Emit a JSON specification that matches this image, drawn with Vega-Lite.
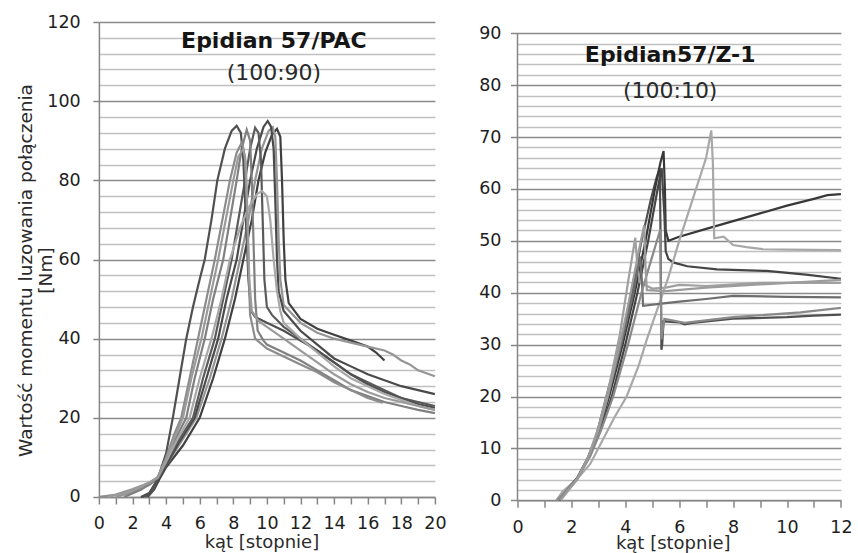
{
"$schema": "https://vega.github.io/schema/vega-lite/v6.json",
"background": "white",
"padding": {"left": 15.9, "top": 13, "right": 5, "bottom": 5},
"config": {
  "view": {"stroke": null},
  "font": "DejaVu Sans",
  "axis": {"labelFont": "DejaVu Sans", "labelFontSize": 17.5, "labelColor": "#1e1e1e", "titleFont": "DejaVu Sans", "titleFontSize": 18, "titleFontWeight": "normal", "titleColor": "#2a2a2a", "domainColor": "#868686", "tickColor": "#868686", "domainWidth": 1.5, "tickWidth": 1.5, "labelFlush": false, "labelOverlap": false},
  "title": {"font": "DejaVu Sans", "fontSize": 22, "fontWeight": "bold", "color": "#151515", "subtitleFont": "DejaVu Sans", "subtitleFontSize": 22, "subtitleColor": "#2a2a2a", "anchor": "middle", "frame": "group"}
},
"datasets": {
"pac": [
{"s":"T1","a":2.9,"m":0},{"s":"T1","a":3.3,"m":2},{"s":"T1","a":3.6,"m":4.5},{"s":"T1","a":4,"m":7.5},{"s":"T1","a":5,"m":13},{"s":"T1","a":6,"m":20},{"s":"T1","a":6.8,"m":30},{"s":"T1","a":7.5,"m":40},{"s":"T1","a":8.1,"m":50},{"s":"T1","a":8.6,"m":60},{"s":"T1","a":9.1,"m":70},{"s":"T1","a":9.5,"m":80},{"s":"T1","a":9.9,"m":87},{"s":"T1","a":10.3,"m":91.5},{"s":"T1","a":10.6,"m":93},{"s":"T1","a":10.8,"m":91},{"s":"T1","a":10.9,"m":80},{"s":"T1","a":11,"m":65},{"s":"T1","a":11.1,"m":55},{"s":"T1","a":11.3,"m":49},{"s":"T1","a":12,"m":45},{"s":"T1","a":13,"m":42.5},{"s":"T1","a":14,"m":41},{"s":"T1","a":15,"m":39.5},{"s":"T1","a":16,"m":38},{"s":"T1","a":16.5,"m":36.5},{"s":"T1","a":17,"m":34.5},
{"s":"T2","a":1,"m":0},{"s":"T2","a":2,"m":1.2},{"s":"T2","a":3,"m":3},{"s":"T2","a":3.5,"m":4.8},{"s":"T2","a":4,"m":8},{"s":"T2","a":4.9,"m":14},{"s":"T2","a":5.8,"m":20},{"s":"T2","a":6.6,"m":30},{"s":"T2","a":7.3,"m":40},{"s":"T2","a":7.9,"m":50},{"s":"T2","a":8.4,"m":60},{"s":"T2","a":8.9,"m":70},{"s":"T2","a":9.3,"m":80},{"s":"T2","a":9.7,"m":88},{"s":"T2","a":10.1,"m":92.5},{"s":"T2","a":10.35,"m":93.4},{"s":"T2","a":10.5,"m":91},{"s":"T2","a":10.6,"m":80},{"s":"T2","a":10.7,"m":65},{"s":"T2","a":10.8,"m":55},{"s":"T2","a":11,"m":48.5},{"s":"T2","a":12,"m":44},{"s":"T2","a":13,"m":41.5},{"s":"T2","a":14,"m":40},{"s":"T2","a":15,"m":39},{"s":"T2","a":16,"m":38},{"s":"T2","a":17,"m":37},{"s":"T2","a":17.5,"m":36},{"s":"T2","a":18,"m":34.5},{"s":"T2","a":18.5,"m":33.5},{"s":"T2","a":19,"m":32},{"s":"T2","a":20,"m":30.5},
{"s":"T3","a":2.5,"m":0},{"s":"T3","a":3,"m":1},{"s":"T3","a":3.5,"m":4.5},{"s":"T3","a":4,"m":8},{"s":"T3","a":4.8,"m":14},{"s":"T3","a":5.7,"m":20},{"s":"T3","a":6.4,"m":30},{"s":"T3","a":7.1,"m":40},{"s":"T3","a":7.6,"m":50},{"s":"T3","a":8.2,"m":60},{"s":"T3","a":8.6,"m":70},{"s":"T3","a":9,"m":80},{"s":"T3","a":9.4,"m":88},{"s":"T3","a":9.8,"m":93.5},{"s":"T3","a":10.05,"m":95},{"s":"T3","a":10.25,"m":93.5},{"s":"T3","a":10.4,"m":88},{"s":"T3","a":10.5,"m":75},{"s":"T3","a":10.6,"m":60},{"s":"T3","a":10.7,"m":52},{"s":"T3","a":11,"m":47},{"s":"T3","a":12,"m":42},{"s":"T3","a":13,"m":38.5},{"s":"T3","a":14,"m":35},{"s":"T3","a":15,"m":33},{"s":"T3","a":16,"m":31},{"s":"T3","a":17,"m":29.5},{"s":"T3","a":18,"m":28},{"s":"T3","a":19,"m":27},{"s":"T3","a":20,"m":26},
{"s":"T4","a":2.8,"m":0},{"s":"T4","a":3.2,"m":1.5},{"s":"T4","a":3.5,"m":4.5},{"s":"T4","a":4,"m":8.5},{"s":"T4","a":4.7,"m":14},{"s":"T4","a":5.6,"m":20},{"s":"T4","a":6.2,"m":30},{"s":"T4","a":6.9,"m":40},{"s":"T4","a":7.4,"m":50},{"s":"T4","a":7.9,"m":60},{"s":"T4","a":8.3,"m":70},{"s":"T4","a":8.7,"m":80},{"s":"T4","a":9,"m":88},{"s":"T4","a":9.3,"m":93.3},{"s":"T4","a":9.5,"m":92},{"s":"T4","a":9.65,"m":85},{"s":"T4","a":9.75,"m":70},{"s":"T4","a":9.85,"m":55},{"s":"T4","a":10,"m":48},{"s":"T4","a":10.3,"m":46},{"s":"T4","a":11,"m":43},{"s":"T4","a":12,"m":40},{"s":"T4","a":13,"m":37},{"s":"T4","a":14,"m":34},{"s":"T4","a":15,"m":31},{"s":"T4","a":16,"m":29},{"s":"T4","a":17,"m":27},{"s":"T4","a":18,"m":25},{"s":"T4","a":19,"m":24},{"s":"T4","a":20,"m":23},
{"s":"T5","a":1.5,"m":0},{"s":"T5","a":2.5,"m":1.8},{"s":"T5","a":3.5,"m":4.6},{"s":"T5","a":4,"m":9},{"s":"T5","a":4.6,"m":15},{"s":"T5","a":5.2,"m":20},{"s":"T5","a":5.7,"m":30},{"s":"T5","a":6.3,"m":40},{"s":"T5","a":6.8,"m":50},{"s":"T5","a":7.4,"m":60},{"s":"T5","a":7.8,"m":70},{"s":"T5","a":8.2,"m":80},{"s":"T5","a":8.5,"m":88},{"s":"T5","a":8.8,"m":92.8},{"s":"T5","a":9,"m":90},{"s":"T5","a":9.1,"m":80},{"s":"T5","a":9.2,"m":65},{"s":"T5","a":9.3,"m":50},{"s":"T5","a":9.45,"m":42},{"s":"T5","a":9.8,"m":39.5},{"s":"T5","a":10,"m":38.5},{"s":"T5","a":11,"m":36.5},{"s":"T5","a":12,"m":34.5},{"s":"T5","a":13,"m":32},{"s":"T5","a":14,"m":29.5},{"s":"T5","a":15,"m":27},{"s":"T5","a":16,"m":25.5},{"s":"T5","a":17,"m":24},{"s":"T5","a":18,"m":23},{"s":"T5","a":19,"m":22},{"s":"T5","a":20,"m":21.2},
{"s":"T6","a":2.6,"m":0},{"s":"T6","a":3,"m":0.8},{"s":"T6","a":3.5,"m":4.5},{"s":"T6","a":4,"m":11},{"s":"T6","a":4.4,"m":20},{"s":"T6","a":4.8,"m":30},{"s":"T6","a":5.2,"m":40},{"s":"T6","a":5.6,"m":48},{"s":"T6","a":6,"m":55},{"s":"T6","a":6.3,"m":60},{"s":"T6","a":6.7,"m":70},{"s":"T6","a":7.05,"m":80},{"s":"T6","a":7.5,"m":88},{"s":"T6","a":7.9,"m":92.5},{"s":"T6","a":8.2,"m":93.8},{"s":"T6","a":8.45,"m":92},{"s":"T6","a":8.6,"m":85},{"s":"T6","a":8.75,"m":70},{"s":"T6","a":8.9,"m":55},{"s":"T6","a":9.05,"m":47},{"s":"T6","a":9.3,"m":45.5},{"s":"T6","a":10,"m":44},{"s":"T6","a":11,"m":42},{"s":"T6","a":12,"m":39.5},{"s":"T6","a":13,"m":37},{"s":"T6","a":14,"m":34},{"s":"T6","a":15,"m":31},{"s":"T6","a":16,"m":28.5},{"s":"T6","a":17,"m":26.5},{"s":"T6","a":18,"m":25},{"s":"T6","a":19,"m":23.5},{"s":"T6","a":20,"m":22.5},
{"s":"T7","a":0,"m":0},{"s":"T7","a":1,"m":0.6},{"s":"T7","a":2,"m":2},{"s":"T7","a":3,"m":3.6},{"s":"T7","a":3.5,"m":5},{"s":"T7","a":4,"m":9},{"s":"T7","a":4.6,"m":14},{"s":"T7","a":5.4,"m":20},{"s":"T7","a":6,"m":30},{"s":"T7","a":6.7,"m":40},{"s":"T7","a":7.3,"m":50},{"s":"T7","a":7.8,"m":60},{"s":"T7","a":8.4,"m":68},{"s":"T7","a":8.9,"m":73},{"s":"T7","a":9.4,"m":76.5},{"s":"T7","a":9.7,"m":77.3},{"s":"T7","a":10,"m":76},{"s":"T7","a":10.2,"m":70},{"s":"T7","a":10.4,"m":60},{"s":"T7","a":10.6,"m":52},{"s":"T7","a":10.8,"m":47},{"s":"T7","a":11,"m":44},{"s":"T7","a":12,"m":40},{"s":"T7","a":13,"m":36.5},{"s":"T7","a":14,"m":33},{"s":"T7","a":15,"m":30},{"s":"T7","a":16,"m":28},{"s":"T7","a":17,"m":26},{"s":"T7","a":18,"m":24.5},{"s":"T7","a":19,"m":23},{"s":"T7","a":20,"m":22},
{"s":"T8","a":0,"m":0},{"s":"T8","a":1,"m":0.5},{"s":"T8","a":2,"m":1.8},{"s":"T8","a":3,"m":3.5},{"s":"T8","a":3.5,"m":5},{"s":"T8","a":4,"m":10},{"s":"T8","a":4.5,"m":16},{"s":"T8","a":4.9,"m":20},{"s":"T8","a":5.4,"m":30},{"s":"T8","a":5.9,"m":40},{"s":"T8","a":6.4,"m":50},{"s":"T8","a":6.9,"m":60},{"s":"T8","a":7.35,"m":70},{"s":"T8","a":7.8,"m":80},{"s":"T8","a":8.2,"m":87},{"s":"T8","a":8.5,"m":89.5},{"s":"T8","a":8.7,"m":86},{"s":"T8","a":8.8,"m":75},{"s":"T8","a":8.9,"m":60},{"s":"T8","a":9,"m":46},{"s":"T8","a":9.3,"m":40},{"s":"T8","a":10,"m":37.5},{"s":"T8","a":11,"m":35.5},{"s":"T8","a":12,"m":33.5},{"s":"T8","a":13,"m":31.5},{"s":"T8","a":14,"m":29},{"s":"T8","a":15,"m":27},{"s":"T8","a":16,"m":25},{"s":"T8","a":16.9,"m":23.8},
{"s":"T9","a":0.5,"m":0},{"s":"T9","a":1.5,"m":1},{"s":"T9","a":2.5,"m":2.6},{"s":"T9","a":3.5,"m":4.8},{"s":"T9","a":4,"m":9.5},{"s":"T9","a":4.5,"m":15},{"s":"T9","a":5,"m":20},{"s":"T9","a":5.5,"m":30},{"s":"T9","a":6.1,"m":40},{"s":"T9","a":6.6,"m":50},{"s":"T9","a":7.1,"m":60},{"s":"T9","a":7.55,"m":70},{"s":"T9","a":8,"m":80},{"s":"T9","a":8.3,"m":86},{"s":"T9","a":8.6,"m":88},{"s":"T9","a":8.75,"m":84},{"s":"T9","a":8.85,"m":70},{"s":"T9","a":8.95,"m":55},{"s":"T9","a":9.1,"m":47},{"s":"T9","a":9.5,"m":44.5},{"s":"T9","a":10,"m":43},{"s":"T9","a":11,"m":40},{"s":"T9","a":12,"m":37},{"s":"T9","a":13,"m":34},{"s":"T9","a":14,"m":31},{"s":"T9","a":15,"m":28.5},{"s":"T9","a":16,"m":26.5},{"s":"T9","a":17,"m":25},{"s":"T9","a":18,"m":24},{"s":"T9","a":19,"m":23},{"s":"T9","a":20,"m":22}
],
"z1": [
{"s":"R1","a":1.5,"m":0},{"s":"R1","a":1.8,"m":1.5},{"s":"R1","a":2.2,"m":4},{"s":"R1","a":2.6,"m":8},{"s":"R1","a":2.9,"m":12},{"s":"R1","a":3.3,"m":20},{"s":"R1","a":3.8,"m":30},{"s":"R1","a":4.25,"m":40},{"s":"R1","a":4.6,"m":50},{"s":"R1","a":4.95,"m":58},{"s":"R1","a":5.15,"m":62},{"s":"R1","a":5.28,"m":64},{"s":"R1","a":5.31,"m":50},{"s":"R1","a":5.34,"m":29},{"s":"R1","a":5.37,"m":30},{"s":"R1","a":5.42,"m":34.5},{"s":"R1","a":6,"m":34.3},{"s":"R1","a":6.2,"m":33.9},{"s":"R1","a":6.5,"m":34.2},{"s":"R1","a":8,"m":35},{"s":"R1","a":10,"m":35.3},{"s":"R1","a":11,"m":35.6},{"s":"R1","a":12,"m":35.8},
{"s":"R2","a":1.45,"m":0},{"s":"R2","a":1.8,"m":2},{"s":"R2","a":2.2,"m":4.2},{"s":"R2","a":2.6,"m":8},{"s":"R2","a":3,"m":13},{"s":"R2","a":3.4,"m":20},{"s":"R2","a":3.9,"m":30},{"s":"R2","a":4.35,"m":40},{"s":"R2","a":4.75,"m":50},{"s":"R2","a":5.1,"m":60},{"s":"R2","a":5.3,"m":65},{"s":"R2","a":5.42,"m":67.3},{"s":"R2","a":5.47,"m":60},{"s":"R2","a":5.5,"m":52},{"s":"R2","a":5.6,"m":50},{"s":"R2","a":6,"m":50.8},{"s":"R2","a":7,"m":52.3},{"s":"R2","a":8,"m":53.8},{"s":"R2","a":9,"m":55.3},{"s":"R2","a":10,"m":56.8},{"s":"R2","a":11,"m":58.1},{"s":"R2","a":11.5,"m":58.8},{"s":"R2","a":12,"m":59},
{"s":"R3","a":1.55,"m":0},{"s":"R3","a":2.2,"m":4},{"s":"R3","a":2.7,"m":9},{"s":"R3","a":3.1,"m":14},{"s":"R3","a":3.5,"m":20},{"s":"R3","a":4,"m":30},{"s":"R3","a":4.45,"m":40},{"s":"R3","a":4.85,"m":50},{"s":"R3","a":5.2,"m":60},{"s":"R3","a":5.35,"m":64},{"s":"R3","a":5.45,"m":55},{"s":"R3","a":5.5,"m":48},{"s":"R3","a":5.6,"m":46.5},{"s":"R3","a":5.8,"m":45.8},{"s":"R3","a":6.3,"m":45.1},{"s":"R3","a":7.4,"m":44.5},{"s":"R3","a":9.25,"m":44.2},{"s":"R3","a":10.7,"m":43.5},{"s":"R3","a":12,"m":42.7},
{"s":"R4","a":1.45,"m":0},{"s":"R4","a":1.65,"m":1.5},{"s":"R4","a":2.2,"m":4},{"s":"R4","a":2.6,"m":8},{"s":"R4","a":3,"m":14},{"s":"R4","a":3.4,"m":22},{"s":"R4","a":3.8,"m":32},{"s":"R4","a":4.1,"m":42},{"s":"R4","a":4.37,"m":50.6},{"s":"R4","a":4.45,"m":45},{"s":"R4","a":4.55,"m":42},{"s":"R4","a":5,"m":40.8},{"s":"R4","a":5.5,"m":41},{"s":"R4","a":6,"m":41.5},{"s":"R4","a":7,"m":41.3},{"s":"R4","a":9,"m":41.9},{"s":"R4","a":12,"m":41.9},
{"s":"R5","a":1.5,"m":0},{"s":"R5","a":1.7,"m":1.8},{"s":"R5","a":2.2,"m":4},{"s":"R5","a":2.7,"m":7},{"s":"R5","a":3.2,"m":12},{"s":"R5","a":3.6,"m":16},{"s":"R5","a":4.05,"m":20},{"s":"R5","a":4.5,"m":26},{"s":"R5","a":4.8,"m":31},{"s":"R5","a":5.2,"m":37},{"s":"R5","a":5.6,"m":43},{"s":"R5","a":6,"m":50},{"s":"R5","a":6.5,"m":58},{"s":"R5","a":7,"m":66},{"s":"R5","a":7.19,"m":71.3},{"s":"R5","a":7.25,"m":65},{"s":"R5","a":7.3,"m":50.5},{"s":"R5","a":7.65,"m":50.8},{"s":"R5","a":8,"m":49.2},{"s":"R5","a":8.5,"m":48.8},{"s":"R5","a":9.1,"m":48.4},{"s":"R5","a":10,"m":48.3},{"s":"R5","a":12,"m":48.2},
{"s":"R6","a":1.5,"m":0},{"s":"R6","a":2.2,"m":4.1},{"s":"R6","a":2.6,"m":8},{"s":"R6","a":3,"m":13},{"s":"R6","a":3.35,"m":20},{"s":"R6","a":3.85,"m":30},{"s":"R6","a":4.3,"m":40},{"s":"R6","a":4.55,"m":47},{"s":"R6","a":4.62,"m":42},{"s":"R6","a":4.66,"m":37.5},{"s":"R6","a":5.5,"m":38},{"s":"R6","a":6,"m":38.3},{"s":"R6","a":7,"m":38.8},{"s":"R6","a":8,"m":39.4},{"s":"R6","a":10,"m":39.2},{"s":"R6","a":12,"m":39.1},
{"s":"R7","a":1.5,"m":0},{"s":"R7","a":2.2,"m":4},{"s":"R7","a":2.7,"m":8.5},{"s":"R7","a":3.1,"m":13.5},{"s":"R7","a":3.55,"m":20},{"s":"R7","a":4.1,"m":30},{"s":"R7","a":4.6,"m":40},{"s":"R7","a":5,"m":47},{"s":"R7","a":5.3,"m":52.2},{"s":"R7","a":5.32,"m":40},{"s":"R7","a":5.34,"m":31},{"s":"R7","a":5.45,"m":35},{"s":"R7","a":6.2,"m":34.2},{"s":"R7","a":8,"m":35.3},{"s":"R7","a":10.5,"m":36.2},{"s":"R7","a":12,"m":37.1},
{"s":"R8","a":1.6,"m":0},{"s":"R8","a":2.2,"m":4},{"s":"R8","a":2.6,"m":8},{"s":"R8","a":3,"m":13.5},{"s":"R8","a":3.35,"m":20},{"s":"R8","a":3.8,"m":30},{"s":"R8","a":4.2,"m":40},{"s":"R8","a":4.5,"m":48},{"s":"R8","a":4.7,"m":53},{"s":"R8","a":4.75,"m":45},{"s":"R8","a":4.8,"m":40.5},{"s":"R8","a":5.5,"m":40.3},{"s":"R8","a":7,"m":41},{"s":"R8","a":9,"m":41.6},{"s":"R8","a":12,"m":42.5}
]
},
"spacing": 31.6,
"resolve": {"scale": {"color": "independent"}},
"hconcat": [
{
  "width": 336, "height": 475,
  "data": {"name": "pac"},
  "title": {"text": "Epidian 57/PAC", "subtitle": "(100:90)", "offset": -72, "dx": 7, "subtitlePadding": 10},
  "mark": {"type": "line", "strokeWidth": 2.2},
  "encoding": {
    "x": {"field": "a", "type": "quantitative", "scale": {"domain": [0, 20], "nice": false, "zero": false},
      "axis": {"values": [0,1,2,3,4,5,6,7,8,9,10,11,12,13,14,15,16,17,18,19,20], "labelExpr": "datum.value % 2 === 0 ? datum.label : ''", "grid": false, "tickSize": 7, "labelPadding": 11, "title": "kąt [stopnie]", "titleX": 162.5, "titleY": 46, "titleBaseline": "middle"}},
    "y": {"field": "m", "type": "quantitative", "scale": {"domain": [0, 120], "nice": false},
      "axis": {"values": [0,4,8,12,16,20,24,28,32,36,40,44,48,52,56,60,64,68,72,76,80,84,88,92,96,100,104,108,112,116,120], "labelExpr": "datum.value % 20 === 0 ? datum.label : ''", "tickSize": 6, "labelPadding": 12.7,
        "tickOpacity": {"condition": {"test": "datum.value % 20 === 0", "value": 1}, "value": 0},
        "gridColor": {"condition": {"test": "datum.value % 20 === 0", "value": "#8a8a8a"}, "value": "#c0c0c0"}, "gridWidth": 1.5,
        "title": ["Wartość momentu luzowania połączenia", "[Nm]"], "titleFontSize": 18.5, "titleLineHeight": 20, "titleX": -73, "titleY": 248, "titleBaseline": "middle", "titleAngle": 270}},
    "color": {"field": "s", "type": "nominal", "legend": null,
      "scale": {"domain": ["T1","T2","T3","T4","T5","T6","T7","T8","T9"], "range": ["#404040","#959595","#4a4a4a","#5a5a5a","#808080","#505050","#a8a8a8","#8c8c8c","#9a9a9a"]}}
  }
},
{
  "width": 323.4, "height": 478.3,
  "title": {"text": "Epidian57/Z-1", "subtitle": "(100:10)", "offset": -81, "dx": -9, "subtitlePadding": 14.5},
  "layer": [
    {
      "data": {"name": "z1"},
      "mark": {"type": "line", "strokeWidth": 2.2},
      "encoding": {
        "x": {"field": "a", "type": "quantitative", "scale": {"domain": [0, 12], "nice": false, "zero": false},
          "axis": {"values": [0,1,2,3,4,5,6,7,8,9,10,11,12], "labelExpr": "datum.value % 2 === 0 ? datum.label : ''", "grid": false, "tickSize": 7, "labelPadding": 11.3, "title": "kąt [stopnie]", "titleX": 155.2, "titleY": 42.8, "titleBaseline": "middle"}},
        "y": {"field": "m", "type": "quantitative", "scale": {"domain": [0, 92.18], "nice": false},
          "axis": {"values": [0,2,4,6,8,10,12,14,16,18,20,22,24,26,28,30,32,34,36,38,40,42,44,46,48,50,52,54,56,58,60,62,64,66,68,70,72,74,76,78,80,82,84,86,88,90], "labelExpr": "datum.value % 10 === 0 ? datum.label : ''", "tickSize": 7, "labelPadding": 9.6, "domain": false,
            "tickOpacity": {"condition": {"test": "datum.value % 10 === 0", "value": 1}, "value": 0},
            "gridColor": {"condition": {"test": "datum.value % 10 === 0", "value": "#8a8a8a"}, "value": "#c0c0c0"}, "gridWidth": 1.5,
            "title": null}},
        "color": {"field": "s", "type": "nominal", "legend": null,
          "scale": {"domain": ["R1","R2","R3","R4","R5","R6","R7","R8"], "range": ["#505050","#383838","#454545","#a0a0a0","#a8a8a8","#6e6e6e","#8a8a8a","#9c9c9c"]}}
      }
    },
    {
      "data": {"values": [{}]},
      "mark": {"type": "rule", "color": "#868686", "strokeWidth": 1.5},
      "encoding": {
        "x": {"datum": 0, "type": "quantitative",
          "axis": {"values": [0,1,2,3,4,5,6,7,8,9,10,11,12], "labelExpr": "datum.value % 2 === 0 ? datum.label : ''", "grid": false, "tickSize": 7, "labelPadding": 11.3, "title": "kąt [stopnie]", "titleX": 155.2, "titleY": 42.8, "titleBaseline": "middle"}},
        "y": {"datum": 0, "type": "quantitative",
          "axis": {"values": [0,2,4,6,8,10,12,14,16,18,20,22,24,26,28,30,32,34,36,38,40,42,44,46,48,50,52,54,56,58,60,62,64,66,68,70,72,74,76,78,80,82,84,86,88,90], "labelExpr": "datum.value % 10 === 0 ? datum.label : ''", "tickSize": 7, "labelPadding": 9.6, "domain": false,
            "tickOpacity": {"condition": {"test": "datum.value % 10 === 0", "value": 1}, "value": 0},
            "gridColor": {"condition": {"test": "datum.value % 10 === 0", "value": "#8a8a8a"}, "value": "#c0c0c0"}, "gridWidth": 1.5,
            "title": null}},
        "y2": {"datum": 90}
      }
    }
  ]
}
]
}
